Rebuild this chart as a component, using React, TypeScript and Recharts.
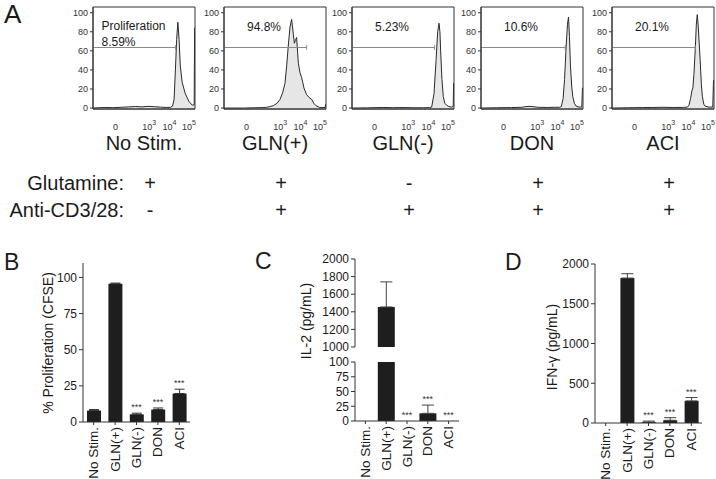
import React from 'react';
import {
  AreaChart, Area, XAxis, YAxis, ReferenceLine, ReferenceArea,
  BarChart, Bar, ErrorBar, ReferenceDot,
} from 'recharts';

const FONT = '"Liberation Sans", Arial, Helvetica, sans-serif';
const INK = '#1a1a1a';
const AXIS = '#333333';
const BAR = '#1e1e1e';

// ---------- Panel A: CFSE histograms ----------
const samples = ['No Stim.', 'GLN(+)', 'GLN(-)', 'DON', 'ACI'];
const gatePercents = ['8.59%', '94.8%', '5.23%', '10.6%', '20.1%'];
const glutamineSigns = ['+', '+', '-', '+', '+'];
const antiCD3Signs = ['-', '+', '+', '+', '+'];

const flowTickChannels = [22, 55, 75, 94];
const flowTickBases = ['0', '10', '10', '10'];
const flowTickExps = ['', '3', '4', '5'];
const countTicks = [0, 20, 40, 60, 80, 100];
const gateLevel = 63.5;
const gateEnds = [81, 81, 81, 82.5, 81.6];

// [channel (% of axis), % of max]
const histNoStim: number[][] = [
  [0, 0], [5, 0.3], [12, 0.6], [20, 0.4], [28, 0.8], [35, 1.2], [42, 1.6], [48, 1.2],
  [54, 1.8], [60, 1.4], [66, 1.0], [72, 0.6], [76, 0.8], [78, 2], [79.5, 9], [80.8, 40],
  [82, 72], [83.2, 90], [84.4, 72], [85.6, 44], [87.4, 27], [90.5, 15], [94, 7],
  [97.3, 3], [99.2, 3.5], [99.6, 84], [100, 84],
];
const histGlnPlus: number[][] = [
  [0, 0], [20, 0], [30, 0.3], [38, 0.5], [41.8, 0.8], [45, 1.5], [48.4, 2.5], [52, 5],
  [54.9, 9], [57.5, 16], [59.8, 26], [61.5, 45], [63, 65], [64.7, 85], [66.3, 93],
  [67.3, 84], [68, 77], [69, 68], [70, 71], [71.2, 74], [72.2, 58], [72.9, 47],
  [74.5, 37], [76.1, 32], [77.2, 27], [78.4, 21], [81, 14], [83.5, 11], [86, 9],
  [88, 5], [90.2, 2.5], [94, 0.5], [99.2, 0.5], [99.6, 4], [100, 4],
];
const histGlnMinus: number[][] = [
  [0, 0], [15, 0.2], [30, 0.6], [40, 0.4], [50, 0.5], [60, 0.3], [70, 0.3], [76, 0.4],
  [78.1, 1], [80.4, 15], [82.4, 50], [84, 80], [85.3, 89], [86.2, 80], [86.9, 60],
  [88.2, 30], [89.5, 12], [91, 5], [92.8, 3], [95, 1.5], [97.7, 1], [99.2, 1.5],
  [99.6, 26], [100, 26],
];
const histDon: number[][] = [
  [0, 0], [15, 0.3], [30, 0.5], [40, 0.8], [44, 1.5], [48, 1.8], [52, 1.3], [56, 0.8],
  [65, 0.6], [72, 0.8], [77, 0.8], [78.7, 1.5], [80.5, 10], [81.9, 30], [83.5, 65],
  [84.8, 88], [85.8, 95.5], [86.7, 75], [87.7, 44], [89, 22], [90, 12], [91.5, 5],
  [93.3, 2], [96, 1], [98.8, 1], [99.5, 21], [100, 21],
];
const histAci: number[][] = [
  [0, 0], [15, 0.3], [30, 0.5], [40, 0.6], [50, 0.8], [60, 0.6], [70, 0.7], [74, 1],
  [75.5, 3], [77, 10], [78.3, 18], [79.3, 21], [80.3, 35], [81.6, 61], [82.7, 88],
  [83.6, 98], [84.6, 85], [86.4, 51], [87.6, 25], [88.6, 12], [90, 4], [91.3, 2],
  [95, 1], [98.8, 1], [99.5, 29], [100, 29],
];
const histograms = [histNoStim, histGlnPlus, histGlnMinus, histDon, histAci];

// ---------- Panel B: % proliferation ----------
const prolifValues = [7.9, 95.6, 5.3, 8.6, 19.7];
const prolifErrors = [0.7, 0.5, 0.8, 1.1, 3.0];
const prolifStars = ['', '', '***', '***', '***'];
const prolifTicks = [0, 25, 50, 75, 100];

// ---------- Panel C: IL-2 ----------
const il2Values = [0, 1455, 0, 13, 0];
const il2Errors = [0, 285, 0, 14, 0];
const il2Stars = ['', '', '***', '***', '***'];
const il2UpperTicks = [1000, 1200, 1400, 1600, 1800, 2000];
const il2LowerTicks = [0, 25, 50, 75, 100];

// ---------- Panel D: IFN-gamma ----------
const ifngValues = [0, 1823, 11, 34, 278];
const ifngErrors = [0, 55, 13, 33, 42];
const ifngStars = ['', '', '***', '***', '***'];
const ifngTicks = [0, 500, 1000, 1500, 2000];

// ---------- layout ----------
const boxLefts = [93, 224, 352, 481, 612];
const BOX_W = 102;

function FlowTick(props: any) {
  const { x, y, payload } = props;
  const i = flowTickChannels.indexOf(payload.value);
  return (
    <text x={x} y={y + 13} textAnchor="middle" fontSize={9} fill="#333" fontFamily={FONT}>
      {flowTickBases[i]}
      {flowTickExps[i] ? <tspan dy={-5} fontSize={7}>{flowTickExps[i]}</tspan> : null}
    </text>
  );
}

function FlowPanel({ index }: { index: number }) {
  const data = histograms[index].map(([ch, count]) => ({ ch, count }));
  const left = boxLefts[index];
  const gx = gateEnds[index];
  const labelFn = (p: any) => {
    const vb = p.viewBox;
    if (index === 0) {
      return (
        <g>
          <text x={vb.x + 8.5} y={vb.y + 23} fontSize={12} fill={INK} fontFamily={FONT}>Proliferation</text>
          <text x={vb.x + 8.5} y={vb.y + 38.5} fontSize={12} fill={INK} fontFamily={FONT}>{gatePercents[0]}</text>
        </g>
      );
    }
    return <text x={vb.x + 23} y={vb.y + 24} fontSize={12} fill={INK} fontFamily={FONT}>{gatePercents[index]}</text>;
  };
  return (
    <div style={{ position: 'absolute', left: left - 30, top: 0 }}>
      <AreaChart width={30 + BOX_W + 2} height={135} data={data} margin={{ top: 7, right: 2, bottom: 0, left: 0 }}>
        <XAxis dataKey="ch" type="number" domain={[0, 100]} ticks={flowTickChannels} interval={0}
          tick={FlowTick} tickLine={false} axisLine={{ stroke: AXIS }} height={26} allowDataOverflow />
        <YAxis type="number" domain={[-1, 106]} ticks={countTicks} interval={0} width={30}
          tickSize={3} tickMargin={2} tick={{ fontSize: 9, fill: '#333' }}
          tickLine={{ stroke: AXIS }} axisLine={{ stroke: AXIS }} allowDataOverflow />
        <Area type="linear" dataKey="count" stroke="#2a2a2a" strokeWidth={1} fill="#e6e6e6"
          fillOpacity={1} isAnimationActive={false} dot={false} activeDot={false} />
        <ReferenceArea x1={0} x2={100} y1={-1} y2={106} fill="none" fillOpacity={0}
          stroke={AXIS} strokeWidth={1} label={labelFn} />
        <ReferenceLine segment={[{ x: 0, y: gateLevel }, { x: gx, y: gateLevel }]} stroke="#8a8a8a" strokeWidth={1} />
        <ReferenceLine segment={[{ x: gx, y: gateLevel - 2.5 }, { x: gx, y: gateLevel + 2.5 }]} stroke="#8a8a8a" strokeWidth={1} />
      </AreaChart>
    </div>
  );
}

function CatTick(props: any) {
  const { x, y, payload } = props;
  return (
    <text x={x} y={y} transform={`rotate(-90, ${x}, ${y})`} textAnchor="end"
      dominantBaseline="central" fontSize={13.5} fill={INK} fontFamily={FONT}>
      {payload.value}
    </text>
  );
}

function rotLabel(text: string, cx: number, cy: number) {
  return () => (
    <text x={cx} y={cy} transform={`rotate(-90, ${cx}, ${cy})`} textAnchor="middle"
      dominantBaseline="central" fontSize={14} fill={INK} fontFamily={FONT}>
      {text}
    </text>
  );
}

function starDots(values: number[], errors: number[], stars: string[]) {
  return samples.map((name, i) =>
    stars[i] ? (
      <ReferenceDot key={'s' + i} x={name} y={values[i] + errors[i]} r={0} fill="none" stroke="none"
        label={{ value: stars[i], position: 'top', offset: 3, fontSize: 9, fill: '#333' }} />
    ) : null,
  );
}

const yTick = { fontSize: 12, fill: INK };

function ProlifChart() {
  const data = samples.map((name, i) => ({ name, value: prolifValues[i], err: [0, prolifErrors[i]] }));
  return (
    <div style={{ position: 'absolute', left: 0, top: 240 }}>
      <BarChart width={200} height={239} data={data} margin={{ top: 23, right: 10, left: 38, bottom: 0 }}>
        <XAxis dataKey="name" type="category" height={57} interval={0} tick={CatTick} tickSize={3}
          tickLine={{ stroke: AXIS }} axisLine={{ stroke: AXIS }} />
        <YAxis type="number" domain={[0, 110]} ticks={prolifTicks} interval={0} width={45}
          tick={yTick} tickSize={4} tickLine={{ stroke: AXIS }} axisLine={{ stroke: AXIS }}
          label={rotLabel('% Proliferation (CFSE)', 48, 103)} />
        <Bar dataKey="value" fill={BAR} barSize={14} isAnimationActive={false}>
          <ErrorBar dataKey="err" width={5} stroke="#333" strokeWidth={1} direction="y" />
        </Bar>
        {starDots(prolifValues, prolifErrors, prolifStars)}
      </BarChart>
    </div>
  );
}

function Il2Chart() {
  const lower = samples.map((name, i) => ({
    name,
    value: il2Values[i],
    err: il2Errors[i] > 0 && il2Values[i] <= 100 ? [0, il2Errors[i]] : null,
  }));
  const upper = samples.map((name, i) => ({
    name,
    value: il2Values[i] >= 1000 ? il2Values[i] : null,
    err: il2Values[i] >= 1000 ? [0, il2Errors[i]] : null,
  }));
  return (
    <>
      <div style={{ position: 'absolute', left: 240, top: 240 }}>
        <BarChart width={230} height={239} data={lower} margin={{ top: 122, right: 11, left: 70, bottom: 0 }}>
          <XAxis dataKey="name" type="category" height={58} interval={0} tick={CatTick} tickSize={3}
            tickLine={{ stroke: AXIS }} axisLine={{ stroke: AXIS }} />
          <YAxis type="number" domain={[0, 100]} ticks={il2LowerTicks} interval={0} width={45}
            allowDataOverflow tick={yTick} tickSize={4} tickLine={{ stroke: AXIS }} axisLine={{ stroke: AXIS }}
            label={rotLabel('IL-2 (pg/mL)', 66, 81)} />
          <Bar dataKey="value" fill={BAR} barSize={17} isAnimationActive={false}>
            <ErrorBar dataKey="err" width={6} stroke="#444" strokeWidth={1} direction="y" />
          </Bar>
          {starDots(il2Values, il2Errors, il2Stars)}
        </BarChart>
      </div>
      <div style={{ position: 'absolute', left: 240, top: 240 }}>
        <BarChart width={230} height={116} data={upper} margin={{ top: 19, right: 11, left: 70, bottom: 9 }}>
          <XAxis dataKey="name" type="category" hide />
          <YAxis type="number" domain={[1000, 2000]} ticks={il2UpperTicks} interval={0} width={45}
            allowDataOverflow tick={yTick} tickSize={4} tickLine={{ stroke: AXIS }} axisLine={{ stroke: AXIS }} />
          <Bar dataKey="value" fill={BAR} barSize={17} isAnimationActive={false}>
            <ErrorBar dataKey="err" width={6} stroke="#444" strokeWidth={1} direction="y" />
          </Bar>
        </BarChart>
      </div>
    </>
  );
}

function IfngChart() {
  const data = samples.map((name, i) => ({
    name, value: ifngValues[i], err: ifngErrors[i] > 0 ? [0, ifngErrors[i]] : null,
  }));
  return (
    <div style={{ position: 'absolute', left: 480, top: 240 }}>
      <BarChart width={236} height={239} data={data} margin={{ top: 24, right: 14, left: 70, bottom: 0 }}>
        <XAxis dataKey="name" type="category" height={56} interval={0} tick={CatTick} tickSize={3}
          tickLine={{ stroke: AXIS }} axisLine={{ stroke: AXIS }} />
        <YAxis type="number" domain={[0, 2000]} ticks={ifngTicks} interval={0} width={45}
          tick={yTick} tickSize={4} tickLine={{ stroke: AXIS }} axisLine={{ stroke: AXIS }}
          label={rotLabel('IFN-γ (pg/mL)', 72, 107)} />
        <Bar dataKey="value" fill={BAR} barSize={14} isAnimationActive={false}>
          <ErrorBar dataKey="err" width={6} stroke="#444" strokeWidth={1} direction="y" />
        </Bar>
        {starDots(ifngValues, ifngErrors, ifngStars)}
      </BarChart>
    </div>
  );
}

export default function App() {
  return (
    <div style={{ position: 'absolute', left: 0, top: 0, width: 716, height: 479, background: '#fff', fontFamily: FONT, overflow: 'hidden' }}>
      <svg width={716} height={479} style={{ position: 'absolute', left: 0, top: 0 }} fontFamily={FONT}>
        <text x={4} y={23} fontSize={26} fill={INK}>A</text>
        <text x={4} y={270} fontSize={23} fill={INK}>B</text>
        <text x={255} y={269} fontSize={23} fill={INK}>C</text>
        <text x={505} y={270} fontSize={23} fill={INK}>D</text>
        {samples.map((s, i) => (
          <text key={'c' + i} x={boxLefts[i] + BOX_W / 2} y={150} fontSize={20} textAnchor="middle" fill={INK}>{s}</text>
        ))}
        <text x={124} y={190} fontSize={20} textAnchor="end" fill={INK}>Glutamine:</text>
        <text x={124} y={217} fontSize={20} textAnchor="end" fill={INK}>Anti-CD3/28:</text>
        {glutamineSigns.map((s, i) => (
          <text key={'g' + i} x={boxLefts[i] + BOX_W / 2 + 6} y={190} fontSize={20} textAnchor="middle" fill={INK}>{s}</text>
        ))}
        {antiCD3Signs.map((s, i) => (
          <text key={'a' + i} x={boxLefts[i] + BOX_W / 2 + 6} y={217} fontSize={20} textAnchor="middle" fill={INK}>{s}</text>
        ))}
      </svg>
      {samples.map((_, i) => <FlowPanel key={i} index={i} />)}
      <ProlifChart />
      <Il2Chart />
      <IfngChart />
    </div>
  );
}
